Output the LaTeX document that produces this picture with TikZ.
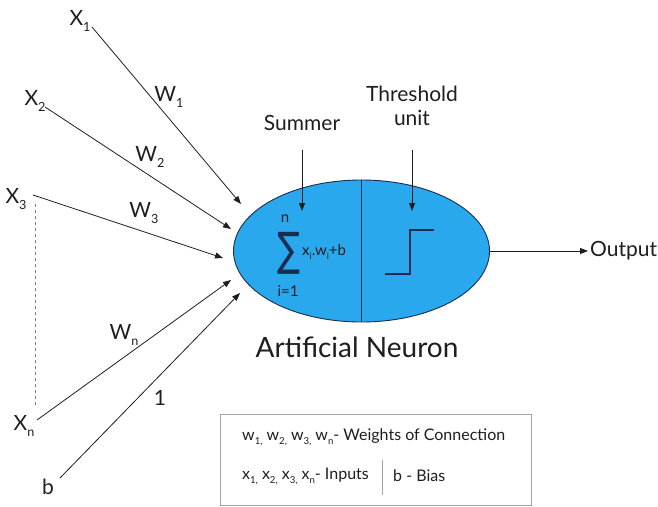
\documentclass[tikz,border=0pt]{standalone}
\usepackage{fontspec}
\setmainfont{Lato}
\newfontfamily\djv{DejaVu Sans}
\usetikzlibrary{arrows.meta,shapes.geometric}
\newcommand\sbx[1]{\raisebox{-0.5ex}{\scalebox{0.6}{#1}}}
\definecolor{neuronblue}{HTML}{2AA8EE}
\definecolor{navy}{HTML}{1B2D4F}
\definecolor{ink}{HTML}{1E1E1E}
\begin{document}
\begin{tikzpicture}[x=1pt,y=-1pt,
  conn/.style={draw=ink, line width=0.8pt, -{Triangle[length=8pt,width=6pt]}},
  lbl/.style={inner sep=1pt, text=ink, font=\fontsize{21}{24}\selectfont},
  small/.style={inner sep=0pt, text=ink, font=\fontsize{15}{17}\selectfont},
  boxtxt/.style={inner sep=0pt, text=ink, font=\fontsize{16}{19}\selectfont, anchor=west}]
\useasboundingbox (0,0) rectangle (658,506);
% neuron
\node[ellipse, minimum width=256pt, minimum height=142pt, inner sep=0pt,
      fill=neuronblue, draw=navy, line width=0.9pt] (neuron) at (361.5,251) {};
\draw[navy, line width=0.8pt] (neuron.north) -- (neuron.south);
% sum
\node[inner sep=0pt, text=navy] (sigma) at (289,253) {\resizebox*{23pt}{42pt}{\djv\fontsize{40}{44}\selectfont ∑}};
\node[small] (nn) at (285,219) {n};
\node[small] (ii) at (288,291) {i=1};
\node[small, anchor=west] (expr) at (302,252) {x\sbx{i}.w\sbx{i}+b};
% step
\draw[navy, line width=2pt] (385,274) -- (410,274) -- (410,230) -- (434,230);
% labels
\node[lbl] (summer) at (302,123) {Summer};
\node[lbl, align=center] (thr) at (412,106) {Threshold\\unit};
\coordinate (sumtip) at (302,211);
\coordinate (thrtip) at (412,211);
\draw[conn] (302,150) -- (sumtip);
\draw[conn] (412,150) -- (thrtip);
% inputs
\node[lbl] (x1) at (80,21) {X\sbx{1}};
\node[lbl] (x2) at (35,101) {X\sbx{2}};
\node[lbl] (x3) at (16,199) {X\sbx{3}};
\node[lbl] (xn) at (24,426) {X\sbx{n}};
\node[lbl] (bb) at (48,487) {b};
\coordinate (t1) at (241,204);
\coordinate (t2) at (231,229);
\coordinate (t3) at (223,258);
\coordinate (tn) at (231,280);
\coordinate (tb) at (240,293);
\coordinate (s1) at (92,27);
\coordinate (s2) at (45,107);
\coordinate (s3) at (33,195);
\coordinate (sn) at (37,420);
\coordinate (sb) at (60,478);
\draw[conn] (s1) -- (t1);
\draw[conn] (s2) -- (t2);
\draw[conn] (s3) -- (t3);
\draw[conn] (sn) -- (tn);
\draw[conn] (sb) -- (tb);
\draw[gray, line width=0.6pt, dashed] (35,204) -- (35,406);
\node[lbl] (w1) at (169,97) {W\sbx{1}};
\node[lbl] (w2) at (150,157) {W\sbx{2}};
\node[lbl] (w3) at (144,213) {W\sbx{3}};
\node[lbl] (wn) at (124,335) {W\sbx{n}};
\node[lbl] (one) at (160,398) {1};
% output
\coordinate (outtip) at (588,251);
\draw[conn] (neuron.east) -- (outtip);
\node[lbl, anchor=west, inner sep=0pt] (output) at (590,251) {Output};
% title
\node[inner sep=0pt, text=ink, font=\fontsize{28}{32}\selectfont] (title) at (357,347) {Artificial Neuron};
% legend box
\draw[gray!70, line width=1pt] (220,414) rectangle (531,505);
\node[boxtxt] (leg1) at (242,437) {w\sbx{1,} w\sbx{2,} w\sbx{3,} w\sbx{n}- Weights of Connection};
\node[boxtxt] (leg2) at (242,476) {x\sbx{1,} x\sbx{2,} x\sbx{3,} x\sbx{n}- Inputs};
\draw[gray!70, line width=0.8pt] (382,460) -- (382,495);
\node[boxtxt] (leg3) at (393,476) {b - Bias};
\end{tikzpicture}
\end{document}
